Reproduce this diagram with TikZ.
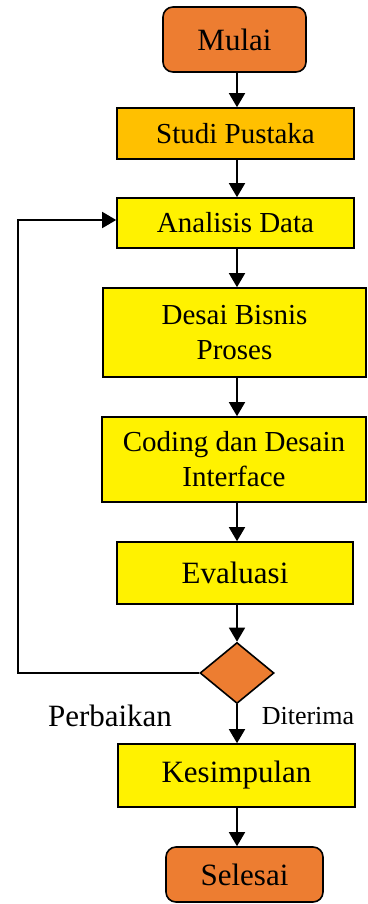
\documentclass[tikz,border=0pt]{standalone}
\usepackage{fontspec}
\setmainfont{Liberation Serif}
\usetikzlibrary{arrows.meta,shapes.geometric}
\definecolor{oranye}{HTML}{ED7D31}
\definecolor{emas}{HTML}{FFC000}

\begin{document}
\begin{tikzpicture}[x=1pt, y=-1pt,
  term/.style={draw=black, line width=1.6pt, fill=oranye, rounded corners=10pt, inner sep=0pt, font=\fontsize{31}{35}\selectfont},
  proc/.style={draw=black, line width=1.6pt, fill=yellow, inner sep=0pt, align=center, font=\fontsize{29}{35}\selectfont},
  cek/.style={diamond, draw=black, line width=1.6pt, fill=oranye, inner sep=0pt, aspect=1.21},
  arr/.style={line width=1.6pt, -{Triangle[length=14pt, width=16pt]}}]
  \useasboundingbox (0,0) rectangle (367,904);
  \node[term, minimum width=143pt, minimum height=65pt] (mulai) at (234.5,39.5) {Mulai};
  \node[proc, fill=emas, minimum width=237pt, minimum height=51pt] (studi) at (235.5,133.5) {Studi Pustaka};
  \node[proc, minimum width=237pt, minimum height=50pt] (analisis) at (235.5,223) {Analisis Data};
  \node[proc, minimum width=263pt, minimum height=89pt] (bisnis) at (234.5,332.5) {Desai Bisnis\\Proses};
  \node[proc, minimum width=264pt, minimum height=85pt] (coding) at (234,459.5) {Coding dan Desain\\Interface};
  \node[proc, minimum width=236pt, minimum height=62pt, font=\fontsize{31}{35}\selectfont] (evaluasi) at (235,573) {Evaluasi};
  \node[cek, minimum width=74pt, minimum height=61pt] (keputusan) at (237,673) {};
  \node[proc, minimum width=237pt, minimum height=63pt, font=\fontsize{31}{35}\selectfont] (kesimpulan) at (236.5,775.5) {Kesimpulan};
  \node[term, minimum width=157pt, minimum height=55pt] (selesai) at (244.5,874.5) {Selesai};
  \node[font=\fontsize{31}{35}\selectfont] (perbaikan) at (110,716) {Perbaikan};
  \node[font=\fontsize{26}{30}\selectfont] (diterima) at (308,716) {Diterima};
  \coordinate (balik) at (18,220);
  \draw[arr] (mulai.south -| keputusan) -- (keputusan |- studi.north);
  \draw[arr] (studi.south -| keputusan) -- (keputusan |- analisis.north);
  \draw[arr] (analisis.south -| keputusan) -- (keputusan |- bisnis.north);
  \draw[arr] (bisnis.south -| keputusan) -- (keputusan |- coding.north);
  \draw[arr] (coding.south -| keputusan) -- (keputusan |- evaluasi.north);
  \draw[arr] (evaluasi.south -| keputusan) -- (keputusan.north);
  \draw[arr] (keputusan.south) -- (keputusan |- kesimpulan.north);
  \draw[arr] (kesimpulan.south -| keputusan) -- (keputusan |- selesai.north);
  \draw[arr] (keputusan.west) -| (balik) -- (balik -| analisis.west);
\end{tikzpicture}
\end{document}
